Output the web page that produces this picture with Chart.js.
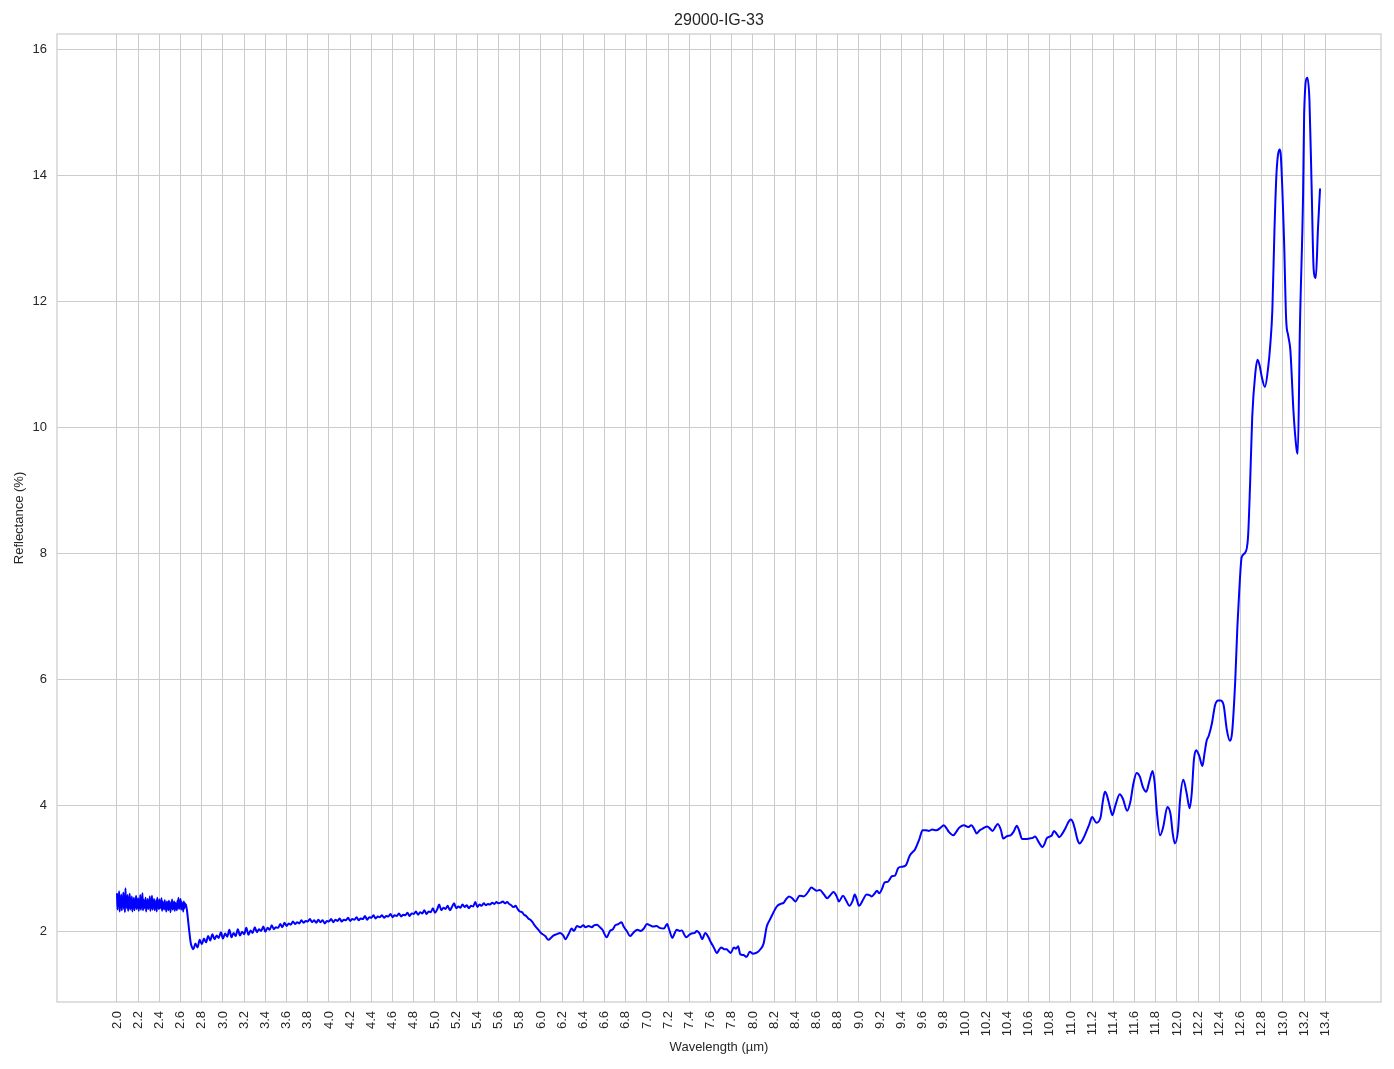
<!DOCTYPE html>
<html><head><meta charset="utf-8">
<script src="https://cdn.jsdelivr.net/npm/chart.js@4/dist/chart.umd.min.js"></script>
<style>html,body{margin:0;padding:0;background:#fff;}canvas{display:block;}</style>
</head><body>
<canvas id="chart" width="1394" height="1069"></canvas>
<script>
const chartTitle = '29000-IG-33';
const xAxisTitle = 'Wavelength (µm)';
const yAxisTitle = 'Reflectance (%)';

const xTickLabels = ['2.0','2.2','2.4','2.6','2.8','3.0','3.2','3.4','3.6','3.8','4.0','4.2','4.4','4.6','4.8','5.0','5.2','5.4','5.6','5.8','6.0','6.2','6.4','6.6','6.8','7.0','7.2','7.4','7.6','7.8','8.0','8.2','8.4','8.6','8.8','9.0','9.2','9.4','9.6','9.8','10.0','10.2','10.4','10.6','10.8','11.0','11.2','11.4','11.6','11.8','12.0','12.2','12.4','12.6','12.8','13.0','13.2','13.4'];
const yTickLabels = ['2','4','6','8','10','12','14','16'];

// Noisy detector region: 2.000 - 2.695 um, sampled every 0.005 um
const noisyStart = 2.0;
const noisyStep = 0.005;
const noisyReflectance = [
2.60,2.34,2.55,2.40,2.63, 2.31,2.52,2.38,2.58,2.33, 2.49,2.42,2.61,2.35,2.54, 2.30,2.68,2.39,2.51,2.36,
2.57,2.32,2.47,2.41,2.59, 2.34,2.50,2.37,2.55,2.31, 2.46,2.40,2.53,2.33,2.49, 2.38,2.56,2.35,2.45,2.42,
2.52,2.32,2.48,2.37,2.57, 2.34,2.46,2.39,2.60,2.33, 2.50,2.36,2.44,2.41,2.53, 2.31,2.47,2.38,2.51,2.35,
2.45,2.40,2.55,2.32,2.48, 2.37,2.56,2.34,2.46,2.39, 2.51,2.33,2.44,2.38,2.49, 2.31,2.53,2.40,2.45,2.35,
2.50,2.36,2.43,2.39,2.52, 2.32,2.47,2.37,2.44,2.34, 2.49,2.38,2.42,2.31,2.47, 2.36,2.45,2.33,2.48,2.39,
2.43,2.30,2.46,2.37,2.50, 2.34,2.42,2.38,2.47,2.32, 2.45,2.36,2.41,2.33,2.48, 2.37,2.53,2.35,2.44,2.39,
2.51,2.34,2.46,2.38,2.43, 2.31,2.47,2.36,2.44,2.40,
2.42,2.38,2.33,2.26,2.18,2.10,2.02,1.95,1.88,1.82
];

// Mid region: 2.70 - 6.00 um, sampled every 0.02 um
const midStart = 2.70;
const midStep = 0.02;
const midReflectance = [
1.78,1.71,1.80,1.74,1.86,1.79,1.88,1.82,1.92,1.85,
1.95,1.87,1.93,1.89,1.98,1.88,1.96,1.91,2.02,1.90,
1.97,1.92,2.03,1.93,1.99,1.95,2.05,1.94,2.01,1.97,
2.06,1.98,2.03,2.00,2.07,1.99,2.05,2.02,2.09,2.03,
2.06,2.05,2.11,2.06,2.13,2.08,2.12,2.10,2.15,2.11,
2.14,2.12,2.17,2.13,2.16,2.15,2.19,2.14,2.17,2.13,
2.18,2.14,2.17,2.12,2.16,2.15,2.19,2.14,2.18,2.16,
2.20,2.15,2.18,2.17,2.21,2.16,2.19,2.18,2.22,2.17,
2.20,2.19,2.24,2.18,2.22,2.21,2.25,2.20,2.23,2.22,
2.25,2.21,2.24,2.23,2.27,2.22,2.25,2.24,2.28,2.23,
2.26,2.25,2.29,2.24,2.28,2.27,2.31,2.26,2.30,2.28,
2.33,2.27,2.31,2.30,2.36,2.29,2.34,2.42,2.33,2.37,
2.35,2.40,2.33,2.38,2.44,2.36,2.39,2.37,2.42,2.38,
2.41,2.36,2.40,2.39,2.46,2.38,2.42,2.40,2.44,2.41,
2.43,2.42,2.45,2.43,2.46,2.44,2.45,2.47,2.44,2.46,
2.43,2.41,2.38,2.40,2.35,2.31,2.30,2.26,2.24,2.20,
2.18,2.14,2.09,2.05,2.01,1.97
];

// Long-wave region: read at individual wavelengths
const smoothWavelength = [
6.04,6.07,6.10,6.12,6.15,6.18,6.21,6.23,6.26,6.29,6.31,6.34,6.37,6.40,6.42,6.45,6.48,6.50,6.53,6.55,
6.58,6.62,6.65,6.68,6.70,6.73,6.76,6.78,6.81,6.84,6.87,6.91,6.94,6.97,7.00,7.03,7.06,7.09,7.12,7.16,
7.19,7.21,7.24,7.26,7.28,7.31,7.33,7.35,7.37,7.40,7.42,7.45,7.47,7.50,7.52,7.55,7.58,7.60,7.63,7.66,
7.68,7.70,7.73,7.75,7.77,7.79,7.82,7.84,7.86,7.88,7.91,7.94,7.97,8.00,8.04,8.07,8.10,8.13,8.16,8.18,
8.21,8.23,8.26,8.29,8.31,8.34,8.37,8.40,8.44,8.48,8.52,8.55,8.58,8.60,8.63,8.67,8.70,8.73,8.76,8.79,
8.81,8.85,8.88,8.91,8.94,8.96,8.98,9.00,9.04,9.07,9.10,9.12,9.15,9.17,9.19,9.22,9.24,9.27,9.29,9.31,
9.34,9.37,9.40,9.44,9.48,9.51,9.53,9.57,9.60,9.63,9.66,9.69,9.73,9.77,9.80,9.83,9.85,9.89,9.92,9.94,
9.97,9.99,10.03,10.06,10.09,10.11,10.14,10.16,10.19,10.21,10.24,10.26,10.29,10.31,10.34,10.36,10.40,10.43,10.46,10.49,
10.51,10.54,10.57,10.61,10.64,10.66,10.70,10.73,10.75,10.77,10.80,10.82,10.84,10.87,10.89,10.92,10.95,10.98,11.00,11.02,
11.04,11.06,11.08,11.11,11.13,11.17,11.20,11.24,11.28,11.30,11.32,11.34,11.37,11.39,11.42,11.46,11.49,11.53,11.56,11.59,
11.62,11.65,11.68,11.71,11.74,11.77,11.79,11.81,11.84,11.87,11.91,11.94,11.96,11.98,12.01,12.03,12.06,12.09,12.12,12.14,
12.16,12.18,12.21,12.24,12.26,12.28,12.30,12.33,12.36,12.39,12.41,12.44,12.47,12.50,12.52,12.55,12.57,12.59,12.61,12.64,
12.67,12.69,12.71,12.74,12.76,12.78,12.80,12.83,12.86,12.88,12.90,12.92,12.94,12.97,12.98,13.01,13.03,13.05,13.07,13.10,
13.13,13.14,13.16,13.19,13.20,13.23,13.25,13.27,13.29,13.31,13.33,13.35
];
const smoothReflectance = [
1.92,1.86,1.90,1.93,1.95,1.97,1.93,1.87,1.95,2.04,2.00,2.08,2.06,2.09,2.06,2.08,2.06,2.09,2.10,2.07,
2.02,1.90,2.00,2.03,2.09,2.11,2.14,2.07,2.00,1.92,1.97,2.02,2.00,2.04,2.11,2.09,2.07,2.08,2.05,2.04,
2.11,2.02,1.89,1.96,2.02,2.00,2.01,1.95,1.90,1.94,1.96,1.97,2.00,1.95,1.87,1.97,1.90,1.83,1.74,1.65,
1.70,1.74,1.71,1.71,1.68,1.65,1.74,1.72,1.76,1.63,1.62,1.59,1.67,1.64,1.66,1.71,1.80,2.07,2.18,2.25,
2.35,2.40,2.43,2.45,2.50,2.55,2.52,2.47,2.56,2.55,2.62,2.69,2.66,2.64,2.65,2.58,2.52,2.57,2.62,2.55,
2.47,2.56,2.48,2.40,2.48,2.58,2.50,2.40,2.50,2.58,2.57,2.55,2.60,2.64,2.60,2.68,2.77,2.78,2.82,2.87,
2.88,3.00,3.02,3.04,3.20,3.26,3.30,3.46,3.60,3.60,3.59,3.61,3.60,3.64,3.68,3.62,3.57,3.52,3.58,3.63,
3.67,3.68,3.65,3.68,3.61,3.55,3.60,3.62,3.65,3.66,3.62,3.59,3.66,3.70,3.60,3.47,3.51,3.52,3.58,3.67,
3.60,3.46,3.46,3.47,3.48,3.50,3.40,3.33,3.38,3.47,3.50,3.52,3.59,3.53,3.49,3.55,3.64,3.74,3.77,3.72,
3.60,3.46,3.39,3.45,3.52,3.68,3.81,3.72,3.81,4.05,4.21,4.15,3.95,3.84,4.00,4.17,4.10,3.91,4.05,4.35,
4.51,4.45,4.28,4.21,4.38,4.54,4.35,3.90,3.52,3.65,3.97,3.85,3.55,3.39,3.60,4.10,4.40,4.20,3.95,4.20,
4.72,4.87,4.78,4.62,4.82,5.02,5.10,5.30,5.59,5.66,5.66,5.59,5.20,5.02,5.15,5.98,6.83,7.47,7.93,8.00,
8.24,9.10,10.16,10.87,11.07,10.98,10.80,10.64,10.94,11.30,11.86,13.14,14.06,14.41,14.31,12.99,11.72,11.45,11.22,10.23,
9.63,9.58,11.58,13.70,14.98,15.55,15.19,13.85,12.50,12.37,13.14,13.79
];

const xTickValues = xTickLabels.map(Number);
const yTickValues = yTickLabels.map(Number);

const points = [];
noisyReflectance.forEach((v, i) => points.push({x: +(noisyStart + i * noisyStep).toFixed(3), y: v}));
midReflectance.forEach((v, i) => points.push({x: +(midStart + i * midStep).toFixed(3), y: v}));
smoothWavelength.forEach((w, i) => points.push({x: w, y: smoothReflectance[i]}));

const FONT = '"Liberation Sans", Arial, sans-serif';
const TEXT = '#262626';
const GRID = '#cccccc';

const framePlugin = {
  id: 'frame',
  beforeDatasetsDraw(chart) {
    const {ctx, chartArea: a} = chart;
    ctx.save();
    ctx.strokeStyle = GRID;
    ctx.lineWidth = 1.25;
    ctx.strokeRect(a.left, a.top, a.right - a.left, a.bottom - a.top);
    ctx.restore();
  }
};

new Chart(document.getElementById('chart'), {
  type: 'line',
  data: {
    datasets: [{
      data: points,
      borderColor: '#0000ff',
      borderWidth: 2,
      pointRadius: 0,
      fill: false,
      cubicInterpolationMode: 'monotone'
    }]
  },
  plugins: [framePlugin],
  options: {
    responsive: false,
    animation: false,
    devicePixelRatio: 1,
    layout: {padding: {left: 0, right: 13, top: 0, bottom: 0}},
    plugins: {
      legend: {display: false},
      tooltip: {enabled: false},
      title: {
        display: true, text: chartTitle, color: TEXT, fullSize: false,
        font: {family: FONT, size: 16, weight: 'normal'},
        padding: {top: 11, bottom: 3.8}
      }
    },
    scales: {
      x: {
        type: 'linear', min: 1.434, max: 13.925,
        afterBuildTicks: s => { s.ticks = xTickValues.map(v => ({value: v})); },
        afterFit: s => { s.height = 67; },
        ticks: {
          autoSkip: false, maxRotation: 90, minRotation: 90, padding: 9,
          color: TEXT, font: {family: FONT, size: 13},
          callback: (v, i) => xTickLabels[i]
        },
        grid: {color: GRID, lineWidth: 1, drawTicks: false},
        border: {display: false},
        title: {display: true, text: xAxisTitle, color: TEXT, font: {family: FONT, size: 13}, padding: {top: 0, bottom: 13.7}}
      },
      y: {
        type: 'linear', min: 0.873, max: 16.243,
        afterBuildTicks: s => { s.ticks = yTickValues.map(v => ({value: v})); },
        afterFit: s => { s.width = 57; },
        ticks: {
          padding: 10, color: TEXT, font: {family: FONT, size: 13},
          callback: (v, i) => yTickLabels[i]
        },
        grid: {color: GRID, lineWidth: 1, drawTicks: false},
        border: {display: false},
        title: {display: true, text: yAxisTitle, color: TEXT, font: {family: FONT, size: 13}, padding: {top: 12, bottom: 0}}
      }
    }
  }
});
</script>
</body></html>
